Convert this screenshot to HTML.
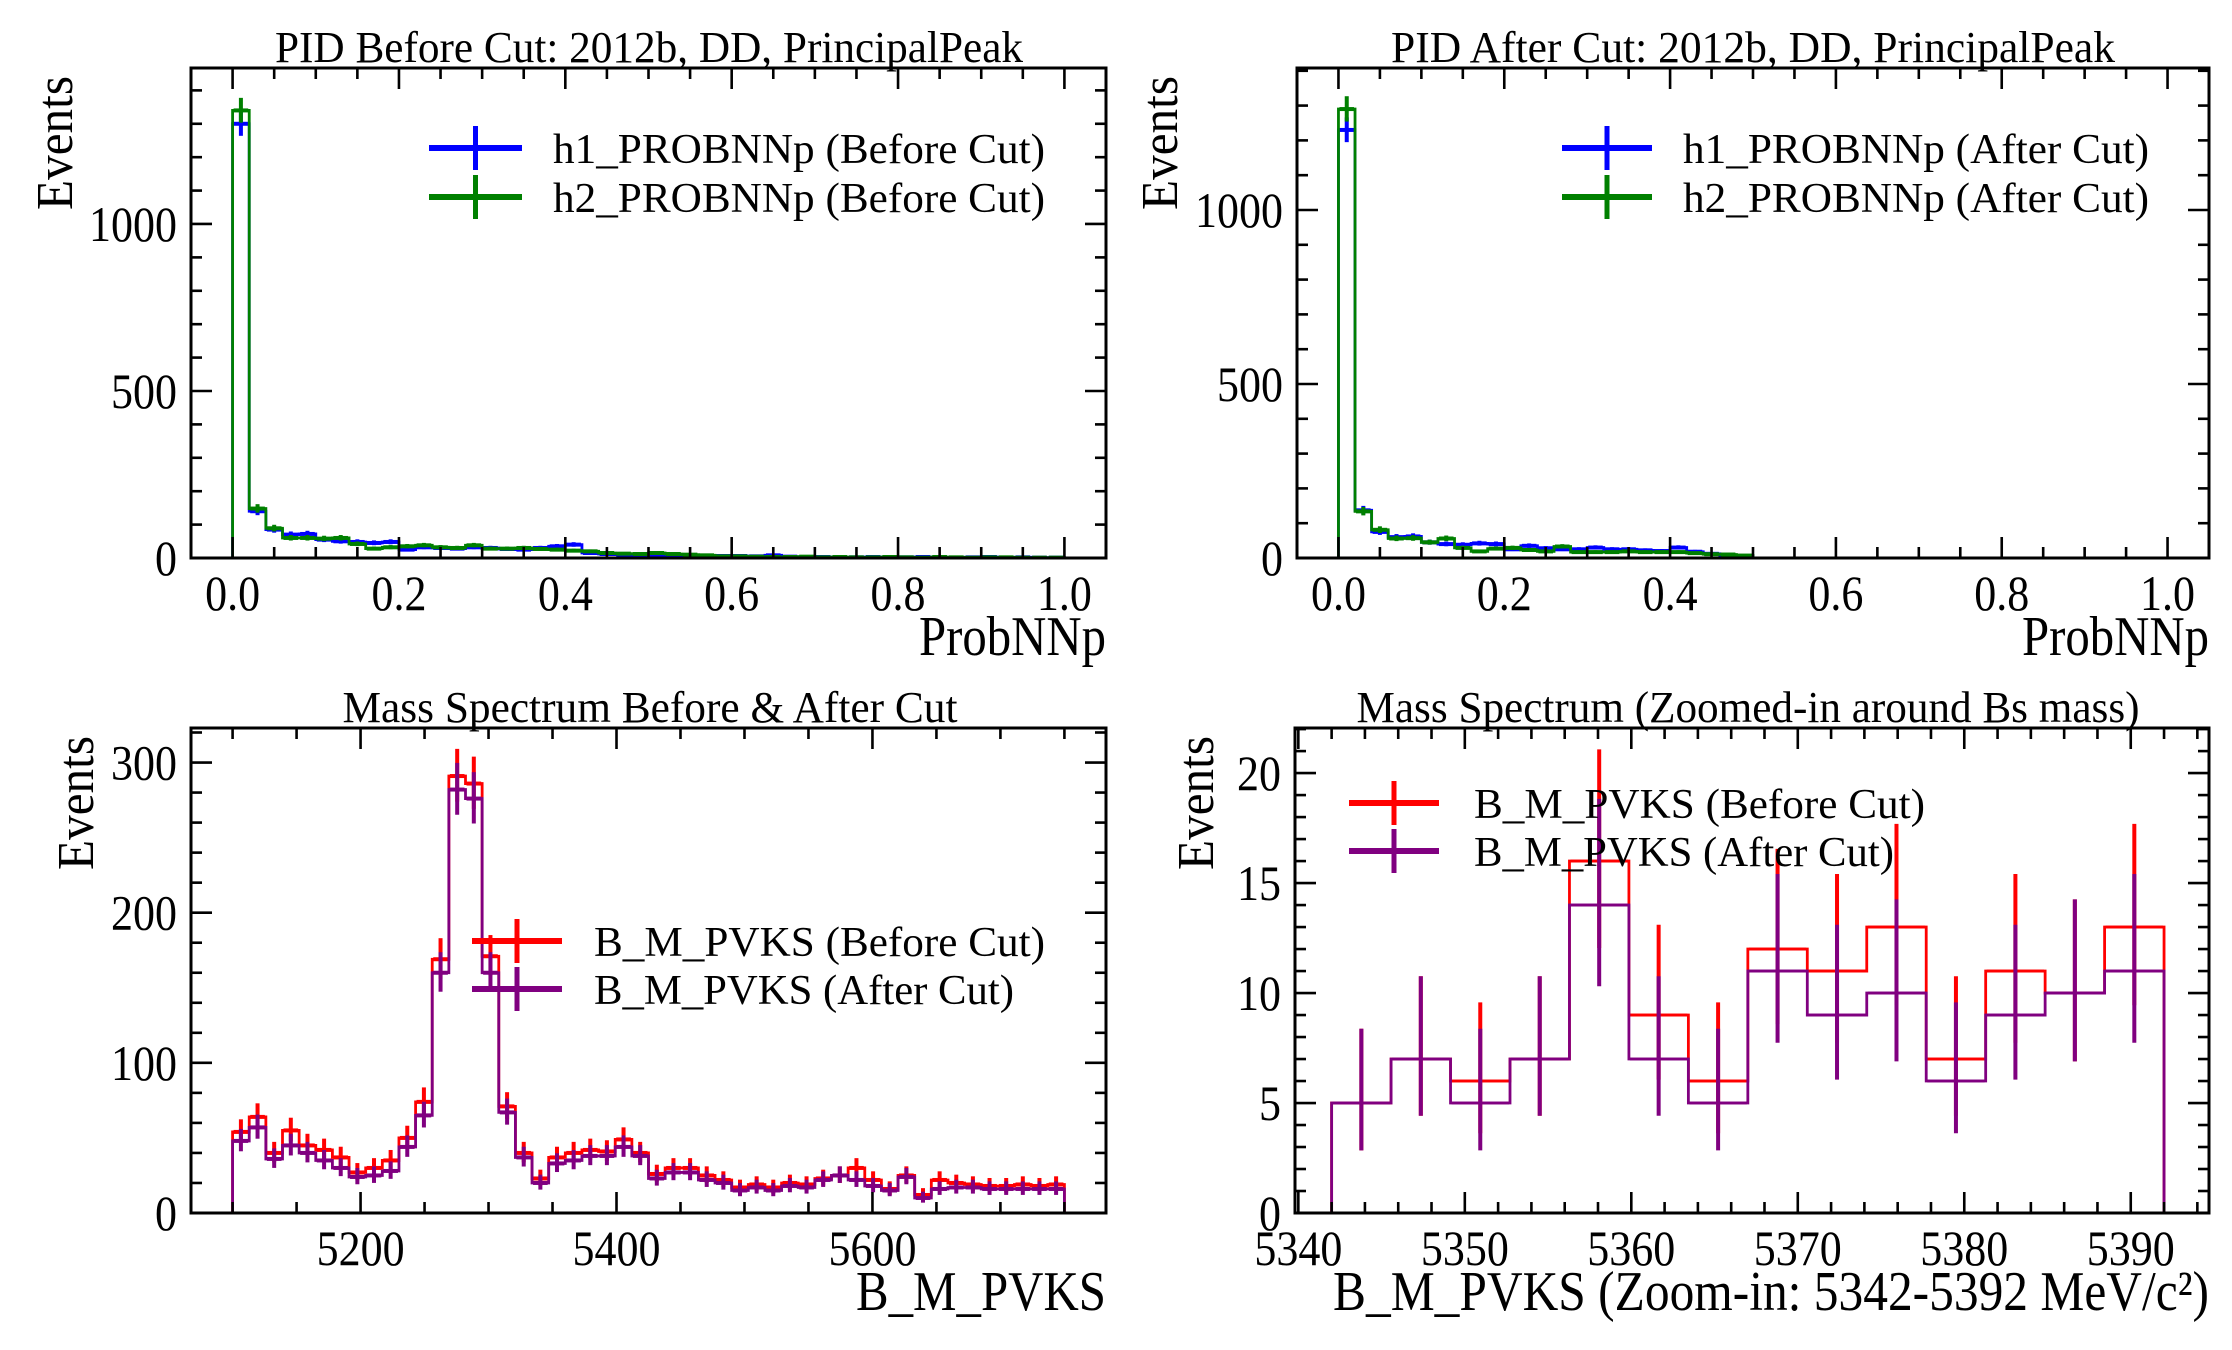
<!DOCTYPE html>
<html><head><meta charset="utf-8"><style>
html,body{margin:0;padding:0;background:#fff;}
svg{display:block;}
text{font-family:"Liberation Serif","DejaVu Serif",serif;fill:#000;}
</style></head><body>
<svg id="fig" width="2232" height="1350" viewBox="0 0 2232 1350" xmlns="http://www.w3.org/2000/svg"></svg>
<script>
// ---- data ----
const probStart = 0;
const probWidth = 0.02;
const h1Before = [1300,140,85,70,72,55,50,48,45,48,25,32,30,28,32,30,27,25,30,35,40,15,12,10,8,10,8,5,4,6,6,5,8,4,3,3,2,2,3,2,2,3,2,1,2,3,1,2,1,1];
const h2Before = [1340,148,89,60,60,58,60,42,28,32,35,38,32,30,38,28,28,30,27,25,22,20,15,13,12,15,12,10,8,5,5,4,3,3,4,2,3,2,2,3,2,1,3,2,1,2,2,1,1,1];
const h1After = [1230,137,75,60,62,45,40,38,42,40,25,35,28,25,25,30,25,25,22,20,30,18,12,8,5,0,0,0,0,0,0,0,0,0,0,0,0,0,0,0,0,0,0,0,0,0,0,0,0,0];
const h2After = [1290,134,81,56,57,45,56,29,19,27,29,23,19,33,17,17,17,19,17,17,17,14,11,10,7,0,0,0,0,0,0,0,0,0,0,0,0,0,0,0,0,0,0,0,0,0,0,0,0,0];
const massStart = 5100;
const massWidth = 13;
const massBefore = [54,64,40,55,45,42,37,27,30,35,50,74,169,291,286,171,71,40,23,37,40,42,41,49,40,26,30,30,25,22,17,19,17,20,19,23,25,30,22,16,25,12,22,20,19,18,18,19,18,19];
const massAfter = [48,57,36,45,40,35,30,24,25,28,44,65,160,282,276,160,67,37,20,33,35,38,38,44,38,23,27,27,22,20,15,17,15,18,17,22,25,22,18,15,24,10,16,17,17,16,16,16,16,16];
const zoomStart = 5342;
const zoomWidth = 50/14;
const zoomBefore = [5,7,6,7,16,9,6,12,11,13,7,11,10,13];
const zoomAfter = [5,7,5,7,14,7,5,11,9,10,6,9,10,11];
const probTicks = [0,0.2,0.4,0.6,0.8,1.0];
const probTickLabels = ["0.0","0.2","0.4","0.6","0.8","1.0"];
const probYTicks = [0,500,1000];
const massTicks = [5200,5400,5600];
const massYTicks = [0,100,200,300];
const zoomTicks = [5340,5350,5360,5370,5380,5390];
const zoomYTicks = [0,5,10,15,20];

const NS = "http://www.w3.org/2000/svg";
const svg = document.getElementById('fig');
function mk(tag, attrs, parent){
  const e = document.createElementNS(NS, tag);
  for (const k in attrs) e.setAttribute(k, attrs[k]);
  (parent||svg).appendChild(e);
  return e;
}
function numW(s){ let w=0; for (const c of s) w += (c==='.')?11:22; return w; }
function poisLo(n){ if(n<=0) return 0; return n*Math.pow(1-1/(9*n)-1/(3*Math.sqrt(n)),3); }
function poisHi(n){ const m=n+1; return m*Math.pow(1-1/(9*m)+1/(3*Math.sqrt(m)),3); }

function panel(cfg){
  const g = mk('g', {});
  
  
  const X = v => cfg.L + (v-cfg.xmin)/(cfg.xmax-cfg.xmin)*(cfg.R-cfg.L);
  const Y = v => cfg.B - (v-cfg.ymin)/(cfg.ymax-cfg.ymin)*(cfg.B-cfg.T);
  const clip = mk('clipPath', {id: cfg.name+'-clip'}, g);
  mk('rect', {x:cfg.L, y:cfg.T, width:cfg.R-cfg.L, height:cfg.B-cfg.T}, clip);
  const plot = mk('g', {'clip-path':'url(#'+cfg.name+'-clip)'}, g);
  cfg.series.forEach(s=>{
    const sg = mk('g', {}, plot);
    
    
    let d = 'M'+X(s.start)+','+Y(0);
    s.values.forEach((v,i)=>{
      const x0 = X(s.start+i*s.width), x1 = X(s.start+(i+1)*s.width);
      d += ' L'+x0+','+Y(v)+' L'+x1+','+Y(v);
    });
    d += ' L'+X(s.start+s.values.length*s.width)+','+Y(0);
    const p = mk('path', {d:d, fill:'none', stroke:s.color, 'stroke-width':2.8}, sg);
    
    
    s.values.forEach((v,i)=>{
      if (v<=0) return;
      const xc = X(s.start+(i+0.5)*s.width);
      const x0 = X(s.start+i*s.width), x1 = X(s.start+(i+1)*s.width);
      const eb = mk('g', {}, sg);
      
      
      mk('line', {x1:xc, x2:xc, y1:Y(poisLo(v)), y2:Y(poisHi(v)), stroke:s.color, 'stroke-width':4}, eb);
      mk('line', {x1:x0+1, x2:x1-1, y1:Y(v), y2:Y(v), stroke:s.color, 'stroke-width':s.xerrW||4}, eb);
    });
  });
  const fr = mk('rect', {x:cfg.L, y:cfg.T, width:cfg.R-cfg.L, height:cfg.B-cfg.T, fill:'none', stroke:'#000', 'stroke-width':3}, g);
  
  
  const tk = mk('g', {stroke:'#000', 'stroke-width':2.6}, g);
  for (let v=cfg.xMinorStart; v<=cfg.xmax+1e-9; v+=cfg.xMinor){
    if (v < cfg.xmin) continue;
    const major = cfg.xTicks.some(t=>Math.abs(t-v)<1e-6);
    const len = major?21:11, x=X(v);
    mk('line',{x1:x,x2:x,y1:cfg.B,y2:cfg.B-len},tk);
    mk('line',{x1:x,x2:x,y1:cfg.T,y2:cfg.T+len},tk);
  }
  for (let v=0; v<=cfg.ymax+1e-9; v+=cfg.yMinor){
    const major = cfg.yTicks.some(t=>Math.abs(t-v)<1e-6);
    const len = major?21:11, y=Y(v);
    mk('line',{x1:cfg.L,x2:cfg.L+len,y1:y,y2:y},tk);
    mk('line',{x1:cfg.R,x2:cfg.R-len,y1:y,y2:y},tk);
  }
  cfg.xTicks.forEach((v,i)=>{
    const s = cfg.xTickLabels ? cfg.xTickLabels[i] : String(v);
    const t = mk('text', {x:X(v), y:cfg.B+52, 'text-anchor':'middle', 'font-size':50, textLength:numW(s), lengthAdjust:'spacingAndGlyphs'}, g);
    t.textContent = s;
    
    
  });
  cfg.yTicks.forEach(v=>{
    const s = String(v);
    const t = mk('text', {x:cfg.L-14, y:Y(v)+17, 'text-anchor':'end', 'font-size':50, textLength:numW(s), lengthAdjust:'spacingAndGlyphs'}, g);
    t.textContent = s;
    
    
  });
  const ti = mk('text', {x:cfg.titleX, y:cfg.T-6, 'text-anchor':'middle', 'font-size':44, textLength:cfg.titleW, lengthAdjust:'spacingAndGlyphs'}, g);
  ti.textContent = cfg.title;
  
  
  const xl = mk('text', {x:cfg.R, y:cfg.xlabelY, 'text-anchor':'end', 'font-size':56, textLength:cfg.xlabelW, lengthAdjust:'spacingAndGlyphs'}, g);
  xl.textContent = cfg.xlabel;
  
  
  const yl = mk('text', {x:0, y:0, 'text-anchor':'end', 'font-size':52, textLength:134, lengthAdjust:'spacingAndGlyphs', transform:'translate('+cfg.ylabelX+','+(cfg.T+8)+') rotate(-90)'}, g);
  yl.textContent = 'Events';
  
  
  const lg = mk('g', {}, g);
  
  
  cfg.series.forEach((s,i)=>{
    const le = mk('g', {}, lg);
    
    
    const y = cfg.legY + i*cfg.legDy;
    const hx = (cfg.legX1+cfg.legX2)/2;
    mk('line',{x1:cfg.legX1,x2:cfg.legX2,y1:y,y2:y,stroke:s.color,'stroke-width':6},le);
    mk('line',{x1:hx,x2:hx,y1:y-22,y2:y+22,stroke:s.color,'stroke-width':5},le);
    const t = mk('text',{x:cfg.legTX,y:y+15,'font-size':42,textLength:cfg.legTW[i],lengthAdjust:'spacingAndGlyphs'},le);
    t.textContent = s.label;
  });
}

panel({name:'pid-before-panel', L:191,R:1106,T:68,B:558, xmin:-0.05,xmax:1.05, ymin:0,ymax:1467,
  xTicks:probTicks, xTickLabels:probTickLabels, xMinor:0.05, xMinorStart:0, yTicks:probYTicks, yMinor:100,
  title:'PID Before Cut: 2012b, DD, PrincipalPeak', titleX:649, titleW:748,
  xlabel:'ProbNNp', xlabelY:655, xlabelW:187, ylabelX:72,
  legX1:429, legX2:522, legY:148, legDy:49, legTX:553, legTW:[492,492],
  series:[
    {name:'h1-before-series', label:'h1_PROBNNp (Before Cut)', color:'#0000ff', start:probStart, width:probWidth, values:h1Before},
    {name:'h2-before-series', label:'h2_PROBNNp (Before Cut)', color:'#008000', start:probStart, width:probWidth, values:h2Before}
  ]});
panel({name:'pid-after-panel', L:1297,R:2209,T:68,B:558, xmin:-0.05,xmax:1.05, ymin:0,ymax:1408,
  xTicks:probTicks, xTickLabels:probTickLabels, xMinor:0.05, xMinorStart:0, yTicks:probYTicks, yMinor:100,
  title:'PID After Cut: 2012b, DD, PrincipalPeak', titleX:1753, titleW:724,
  xlabel:'ProbNNp', xlabelY:655, xlabelW:187, ylabelX:1177,
  legX1:1562, legX2:1652, legY:148, legDy:49, legTX:1683, legTW:[466,466],
  series:[
    {name:'h1-after-series', label:'h1_PROBNNp (After Cut)', color:'#0000ff', start:probStart, width:probWidth, values:h1After},
    {name:'h2-after-series', label:'h2_PROBNNp (After Cut)', color:'#008000', start:probStart, width:probWidth, values:h2After}
  ]});
panel({name:'mass-spectrum-panel', L:191,R:1106,T:728,B:1213, xmin:5067.5,xmax:5782.5, ymin:0,ymax:323,
  xTicks:massTicks, xMinor:50, xMinorStart:5100, yTicks:massYTicks, yMinor:20,
  title:'Mass Spectrum Before & After Cut', titleX:650, titleW:615,
  xlabel:'B_M_PVKS', xlabelY:1310, xlabelW:250, ylabelX:93,
  legX1:472, legX2:562, legY:941, legDy:48, legTX:594, legTW:[451,420],
  series:[
    {name:'mass-before-series', label:'B_M_PVKS (Before Cut)', color:'#ff0000', start:massStart, width:massWidth, values:massBefore},
    {name:'mass-after-series', label:'B_M_PVKS (After Cut)', color:'#800080', start:massStart, width:massWidth, values:massAfter}
  ]});
panel({name:'mass-zoom-panel', L:1295,R:2209,T:728,B:1213, xmin:5339.8,xmax:5394.7, ymin:0,ymax:22.05,
  xTicks:zoomTicks, xMinor:2, xMinorStart:5340, yTicks:zoomYTicks, yMinor:1,
  title:'Mass Spectrum (Zoomed-in around Bs mass)', titleX:1748, titleW:783,
  xlabel:'B_M_PVKS (Zoom-in: 5342-5392 MeV/c²)', xlabelY:1310, xlabelW:876, ylabelX:1213,
  legX1:1349, legX2:1439, legY:803, legDy:48, legTX:1474, legTW:[451,420],
  series:[
    {name:'zoom-before-series', label:'B_M_PVKS (Before Cut)', color:'#ff0000', start:zoomStart, width:zoomWidth, values:zoomBefore, xerrW:2.8},
    {name:'zoom-after-series', label:'B_M_PVKS (After Cut)', color:'#800080', start:zoomStart, width:zoomWidth, values:zoomAfter, xerrW:2.8}
  ]});
</script>
</body></html>
